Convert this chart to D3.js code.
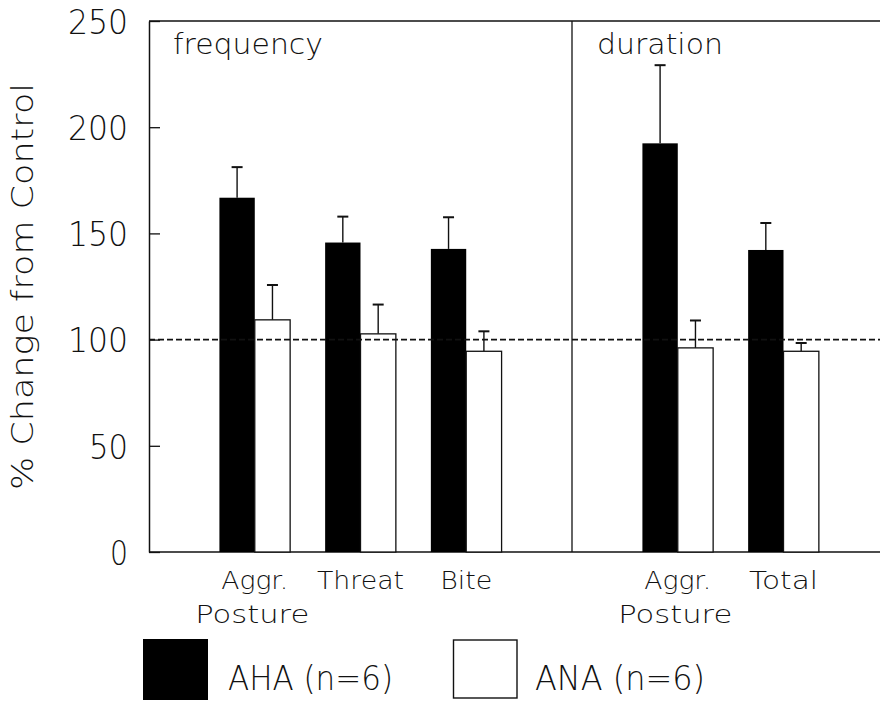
<!DOCTYPE html>
<html>
<head>
<meta charset="utf-8">
<script src="https://cdn.jsdelivr.net/npm/d3@7"></script>
<style>
  html, body { margin: 0; padding: 0; background: #fff; }
  svg { display: block; }
  text { font-family: "DejaVu Sans", Roboto, "Liberation Sans", sans-serif; font-weight: 200; fill: #111; }
</style>
</head>
<body>
<svg id="chart" width="880" height="703"></svg>
<script>
// Behaviour measures, % change from control, mean and SEM per group
const freqCategories = ["Aggr. Posture", "Threat", "Bite"];
const durCategories  = ["Aggr. Posture", "Total"];
const freqAHA    = [166.8, 145.7, 142.7];
const freqAHAsem = [14.4, 12.2, 14.9];
const freqANA    = [109.3, 102.7, 94.5];
const freqANAsem = [16.4, 13.8, 9.4];
const durAHA     = [192.4, 142.2];
const durAHAsem  = [36.8, 12.7];
const durANA     = [96.1, 94.5];
const durANAsem  = [12.9, 3.9];
const yTicks = [0, 50, 100, 150, 200, 250];
const controlLevel = 100;
const panelTitles = ["frequency", "duration"];
const seriesNames = ["AHA (n=6)", "ANA (n=6)"];

(function () {
const svg = d3.select("#chart");
const W = 880;
const plotLeft = 149, plotTop = 21, plotBottom = 552, divider = 572;
const ink = "#111";

const y = d3.scaleLinear().domain([0, 250]).range([plotBottom, plotTop]);

// two panels sharing one band step
const xFreq = d3.scaleBand().domain(freqCategories).range([plotLeft, divider])
  .paddingInner(0.331).paddingOuter(0.666);
const step = xFreq.step();
const xDur = d3.scaleBand().domain(durCategories)
  .range([divider, divider + step * (2 - 0.331 + 2 * 0.666)])
  .paddingInner(0.331).paddingOuter(0.666);

// frame lines
svg.append("line").attr("x1", plotLeft).attr("x2", W).attr("y1", plotTop).attr("y2", plotTop)
  .attr("stroke", ink).attr("stroke-width", 1.5);
svg.append("line").attr("x1", plotLeft).attr("x2", W).attr("y1", plotBottom).attr("y2", plotBottom)
  .attr("stroke", ink).attr("stroke-width", 1.5);
svg.append("line").attr("x1", divider).attr("x2", divider).attr("y1", plotTop).attr("y2", plotBottom)
  .attr("stroke", ink).attr("stroke-width", 1.3);

// y axis, ticks pointing inward
const yAxis = d3.axisLeft(y).tickValues(yTicks).tickSizeInner(-11).tickSizeOuter(0).tickPadding(21);
const ga = svg.append("g").attr("transform", `translate(${plotLeft},0)`).call(yAxis);
ga.select(".domain").attr("stroke", ink).attr("stroke-width", 1.5);
ga.selectAll(".tick line").attr("stroke", ink).attr("stroke-width", 1.3);
ga.selectAll(".tick text")
  .attr("font-size", 34).attr("font-family", null).attr("fill", ink)
  .attr("dy", "0.36em")
  .attr("textLength", d => String(d).length * 21 - 3)
  .attr("lengthAdjust", "spacingAndGlyphs");

// y axis title
svg.append("text")
  .attr("transform", `translate(33,${(plotTop + plotBottom) / 2}) rotate(-90)`)
  .attr("text-anchor", "middle")
  .attr("font-size", 31)
  .attr("textLength", 407).attr("lengthAdjust", "spacingAndGlyphs")
  .text("% Change from Control");

// panel titles
svg.append("text").attr("x", 173).attr("y", 53.5).attr("font-size", 29)
  .attr("textLength", 150).attr("lengthAdjust", "spacingAndGlyphs").text(panelTitles[0]);
svg.append("text").attr("x", 597).attr("y", 53.5).attr("font-size", 29)
  .attr("textLength", 126).attr("lengthAdjust", "spacingAndGlyphs").text(panelTitles[1]);

function drawPanel(x, cats, aha, ahaSem, ana, anaSem) {
  const bw = x.bandwidth() / 2;
  const g = svg.append("g");
  const rows = cats.map((c, i) => ({ c, aha: aha[i], ahaSem: ahaSem[i], ana: ana[i], anaSem: anaSem[i] }));

  // error bars (upper only), drawn first so bars sit on top
  const err = [];
  rows.forEach(r => {
    err.push({ cx: x(r.c) + bw / 2, v: r.aha, e: r.ahaSem });
    err.push({ cx: x(r.c) + bw * 1.5, v: r.ana, e: r.anaSem });
  });
  g.selectAll("line.err").data(err).join("line").attr("class", "err")
    .attr("x1", d => d.cx).attr("x2", d => d.cx)
    .attr("y1", d => y(d.v)).attr("y2", d => y(d.v + d.e))
    .attr("stroke", ink).attr("stroke-width", 1.4);
  g.selectAll("line.cap").data(err).join("line").attr("class", "cap")
    .attr("x1", d => d.cx - 5.5).attr("x2", d => d.cx + 5.5)
    .attr("y1", d => y(d.v + d.e)).attr("y2", d => y(d.v + d.e))
    .attr("stroke", ink).attr("stroke-width", 2);

  g.selectAll("rect.aha").data(rows).join("rect").attr("class", "aha")
    .attr("x", d => x(d.c)).attr("width", bw)
    .attr("y", d => y(d.aha)).attr("height", d => y(0) - y(d.aha))
    .attr("fill", "#000");
  g.selectAll("rect.ana").data(rows).join("rect").attr("class", "ana")
    .attr("x", d => x(d.c) + bw).attr("width", bw)
    .attr("y", d => y(d.ana)).attr("height", d => y(0) - y(d.ana))
    .attr("fill", "#fff").attr("stroke", ink).attr("stroke-width", 1.3);
}
drawPanel(xFreq, freqCategories, freqAHA, freqAHAsem, freqANA, freqANAsem);
drawPanel(xDur, durCategories, durAHA, durAHAsem, durANA, durANAsem);

// control reference line
svg.append("line").attr("x1", plotLeft).attr("x2", W)
  .attr("y1", y(controlLevel)).attr("y2", y(controlLevel))
  .attr("stroke", ink).attr("stroke-width", 1.8).attr("stroke-dasharray", "6,3");

// category labels
const labelWidths = { "Aggr.": 67, "Threat": 87, "Bite": 52, "Total": 69, "Posture": 114 };
function drawLabels(x, cats) {
  cats.forEach(c => {
    const cx = x(c) + x.bandwidth() / 2;
    const words = c.split(" ");
    words.forEach((w, j) => {
      svg.append("text")
        .attr("x", j === 0 ? cx : cx - 2.5)
        .attr("y", 589 + j * 34)
        .attr("text-anchor", "middle")
        .attr("font-size", 24)
        .attr("textLength", labelWidths[w]).attr("lengthAdjust", "spacingAndGlyphs")
        .text(w);
    });
  });
}
drawLabels(xFreq, freqCategories);
drawLabels(xDur, durCategories);

// legend
const lg = svg.append("g");
lg.append("rect").attr("x", 143).attr("y", 639).attr("width", 65).attr("height", 61).attr("fill", "#000");
lg.append("text").attr("x", 228).attr("y", 690).attr("font-size", 34)
  .attr("textLength", 165).attr("lengthAdjust", "spacingAndGlyphs").text(seriesNames[0]);
lg.append("rect").attr("x", 453.5).attr("y", 640).attr("width", 63.5).attr("height", 58)
  .attr("fill", "#fff").attr("stroke", ink).attr("stroke-width", 1.4);
lg.append("text").attr("x", 535).attr("y", 690).attr("font-size", 34)
  .attr("textLength", 170).attr("lengthAdjust", "spacingAndGlyphs").text(seriesNames[1]);
})();
</script>
</body>
</html>
